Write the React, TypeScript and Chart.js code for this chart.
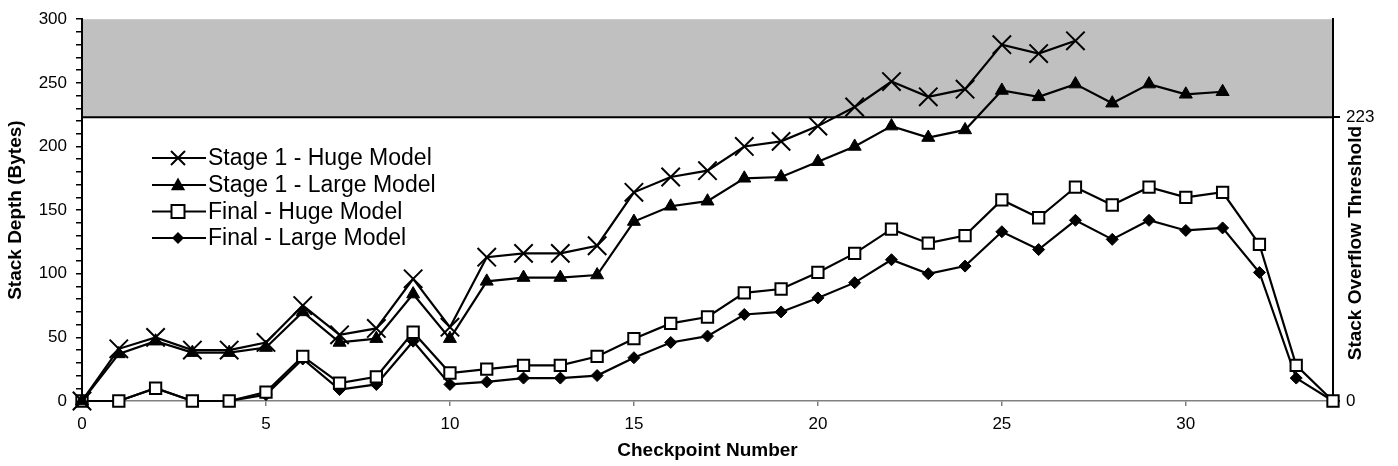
import React, { useEffect, useRef } from 'react';
import { Chart, registerables } from 'chart.js';

Chart.register(...registerables);

const checkpoints = [0, 1, 2, 3, 4, 5, 6, 7, 8, 9, 10, 11, 12, 13, 14, 15, 16, 17, 18, 19, 20, 21, 22, 23, 24, 25, 26, 27, 28, 29, 30, 31, 32, 33, 34];
const stage1Huge = [0, 41, 50, 40, 40, 46, 75, 52, 57, 96, 58, 113, 116, 116, 122, 164, 176, 181, 200, 204, 216, 231, 251, 239, 245, 280, 273, 283];
const stage1Large = [0, 37, 47, 38, 38, 42, 70, 46, 49, 84, 49, 94, 97, 97, 99, 141, 153, 157, 175, 176, 188, 200, 216, 207, 213, 244, 239, 249, 234, 249, 241, 243];
const finalHuge = [0, 0, 10, 0, 0, 7, 35, 14, 19, 54, 22, 25, 28, 28, 35, 49, 61, 66, 85, 88, 101, 116, 135, 124, 130, 158, 144, 168, 154, 168, 160, 164, 123, 28, 0];
const finalLarge = [0, 0, 10, 0, 0, 5, 33, 9, 13, 47, 13, 15, 18, 18, 20, 34, 46, 51, 68, 70, 81, 93, 111, 100, 106, 133, 119, 142, 127, 142, 134, 136, 101, 18, 0];
const thresholdValue = 223;
const yMajorTicks = [0, 50, 100, 150, 200, 250, 300];
const xTickLabels = [0, 5, 10, 15, 20, 25, 30];
const rightTickLabels = [0, 223];
const seriesNames = ['Stage 1 - Huge Model', 'Stage 1 - Large Model', 'Final - Huge Model', 'Final - Large Model'];

const FONT = "'Liberation Sans', Arial, Helvetica, sans-serif";

function toPoints(values: number[]) {
  return values.map((v, i) => ({ x: checkpoints[i], y: v }));
}

function drawMarker(ctx: CanvasRenderingContext2D, kind: string, x: number, y: number, s: number) {
  ctx.save();
  ctx.strokeStyle = '#000';
  ctx.fillStyle = '#000';
  ctx.lineWidth = 2;
  ctx.beginPath();
  if (kind === 'x') {
    ctx.moveTo(x - s, y - s); ctx.lineTo(x + s, y + s);
    ctx.moveTo(x - s, y + s); ctx.lineTo(x + s, y - s);
    ctx.stroke();
  } else if (kind === 'tri') {
    ctx.moveTo(x, y - s); ctx.lineTo(x + s * 0.95, y + s * 0.7); ctx.lineTo(x - s * 0.95, y + s * 0.7);
    ctx.closePath(); ctx.fill();
  } else if (kind === 'sq') {
    ctx.fillStyle = '#fff';
    ctx.rect(x - s, y - s, 2 * s, 2 * s);
    ctx.fill(); ctx.stroke();
  } else {
    ctx.moveTo(x, y - s); ctx.lineTo(x + s, y); ctx.lineTo(x, y + s); ctx.lineTo(x - s, y);
    ctx.closePath(); ctx.fill();
  }
  ctx.restore();
}

const backgroundPlugin = {
  id: 'overflowZone',
  beforeDraw(chart: any) {
    const { ctx, chartArea, scales } = chart;
    const y = scales.y;
    const yTop = y.getPixelForValue(y.max);
    const yT = y.getPixelForValue(thresholdValue);
    ctx.save();
    ctx.fillStyle = '#C0C0C0';
    ctx.fillRect(chartArea.left, yTop, chartArea.right - chartArea.left, yT - yTop);
    ctx.strokeStyle = '#000';
    ctx.lineWidth = 2;
    ctx.beginPath();
    ctx.moveTo(chartArea.left, yT);
    ctx.lineTo(chartArea.right, yT);
    ctx.stroke();
    ctx.restore();
  },
};

const overlayPlugin = {
  id: 'overlay',
  afterDraw(chart: any) {
    const { ctx, chartArea, scales } = chart;
    const kinds = ['x', 'tri', 'sq', 'dia'];
    const sizes = [7, 7.5, 6.5, 6];
    const rowY = [158, 185, 211.5, 238];
    ctx.save();
    ctx.font = `23px ${FONT}`;
    ctx.textBaseline = 'middle';
    ctx.textAlign = 'left';
    seriesNames.forEach((name, i) => {
      const yy = rowY[i];
      ctx.strokeStyle = '#000';
      ctx.lineWidth = 2;
      ctx.beginPath();
      ctx.moveTo(152, yy);
      ctx.lineTo(206, yy);
      ctx.stroke();
      drawMarker(ctx, kinds[i], 178, yy, sizes[i]);
      ctx.fillStyle = '#000';
      ctx.fillText(name, 208, yy + 1);
    });
    ctx.restore();
    const yMid = (scales.y.getPixelForValue(thresholdValue) + chartArea.bottom) / 2 - 16;
    ctx.save();
    ctx.translate(chartArea.right + 23, yMid);
    ctx.rotate(-Math.PI / 2);
    ctx.font = `bold 19px ${FONT}`;
    ctx.fillStyle = '#000';
    ctx.textAlign = 'center';
    ctx.textBaseline = 'middle';
    ctx.fillText('Stack Overflow Threshold', 0, 0);
    ctx.restore();
  },
};

export default function App() {
  const ref = useRef<HTMLCanvasElement>(null);
  useEffect(() => {
    if (!ref.current) return;
    const common = { borderColor: '#000', borderWidth: 2.2, clip: false as any, tension: 0 };
    const chart = new Chart(ref.current, {
      type: 'line',
      data: {
        datasets: [
          { ...common, label: seriesNames[0], data: toPoints(stage1Huge), pointStyle: 'crossRot', pointRadius: 13, pointBorderWidth: 2, pointBorderColor: '#000', pointBackgroundColor: '#000' },
          { ...common, label: seriesNames[1], data: toPoints(stage1Large), pointStyle: 'triangle', pointRadius: 7.5, pointBorderWidth: 1, pointBorderColor: '#000', pointBackgroundColor: '#000' },
          { ...common, label: seriesNames[2], data: toPoints(finalHuge), pointStyle: 'rect', pointRadius: 8, pointBorderWidth: 2, pointBorderColor: '#000', pointBackgroundColor: '#fff' },
          { ...common, label: seriesNames[3], data: toPoints(finalLarge), pointStyle: 'rectRot', pointRadius: 6, pointBorderWidth: 1, pointBorderColor: '#000', pointBackgroundColor: '#000' },
        ] as any,
      },
      options: {
        responsive: false,
        animation: false,
        layout: { padding: { top: 15, left: 0, right: 0, bottom: 0 } },
        plugins: { legend: { display: false }, tooltip: { enabled: false } },
        scales: {
          x: {
            type: 'linear',
            min: 0,
            max: 34,
            afterBuildTicks: (s: any) => { s.ticks = xTickLabels.map((v) => ({ value: v })); },
            afterFit: (s: any) => { s.height = 65; },
            grid: { drawOnChartArea: false, drawTicks: true, tickLength: 5, color: '#808080', lineWidth: 1.5 },
            border: { color: '#808080', width: 1.5 },
            ticks: { color: '#000', font: { family: FONT, size: 17 }, padding: 8, maxRotation: 0, autoSkip: false },
            title: { display: true, text: 'Checkpoint Number', color: '#000', font: { family: FONT, size: 19, weight: 'bold' }, padding: { top: 0, bottom: 4 } },
          },
          y: {
            position: 'left',
            min: 0,
            max: 300,
            afterFit: (s: any) => { s.width = 82; },
            ticks: {
              stepSize: 10,
              autoSkip: false,
              color: '#000',
              font: { family: FONT, size: 17 },
              padding: 9,
              callback: (v: any) => (yMajorTicks.includes(Number(v)) ? String(v) : ''),
            },
            grid: { drawOnChartArea: false, drawTicks: true, tickLength: 6, color: '#000', lineWidth: 1.5 },
            border: { color: '#000', width: 2 },
            title: { display: true, text: 'Stack Depth (Bytes)', color: '#000', font: { family: FONT, size: 19, weight: 'bold' }, padding: { top: 4, bottom: 0 } },
          },
          y2: {
            position: 'right',
            min: 0,
            max: 300,
            afterBuildTicks: (s: any) => { s.ticks = rightTickLabels.map((v) => ({ value: v })); },
            afterFit: (s: any) => { s.width = 65; },
            ticks: { color: '#000', font: { family: FONT, size: 17 }, padding: 6 },
            grid: { drawOnChartArea: false, drawTicks: true, tickLength: 7, color: '#000', lineWidth: 2 },
            border: { color: '#000', width: 2 },
          },
        },
      } as any,
      plugins: [backgroundPlugin, overlayPlugin],
    });
    return () => chart.destroy();
  }, []);
  return (
    <div style={{ position: 'fixed', left: 0, top: 0, width: 1398, height: 466, background: '#fff' }}>
      <canvas ref={ref} width={1398} height={466} style={{ display: 'block' }} />
    </div>
  );
}
